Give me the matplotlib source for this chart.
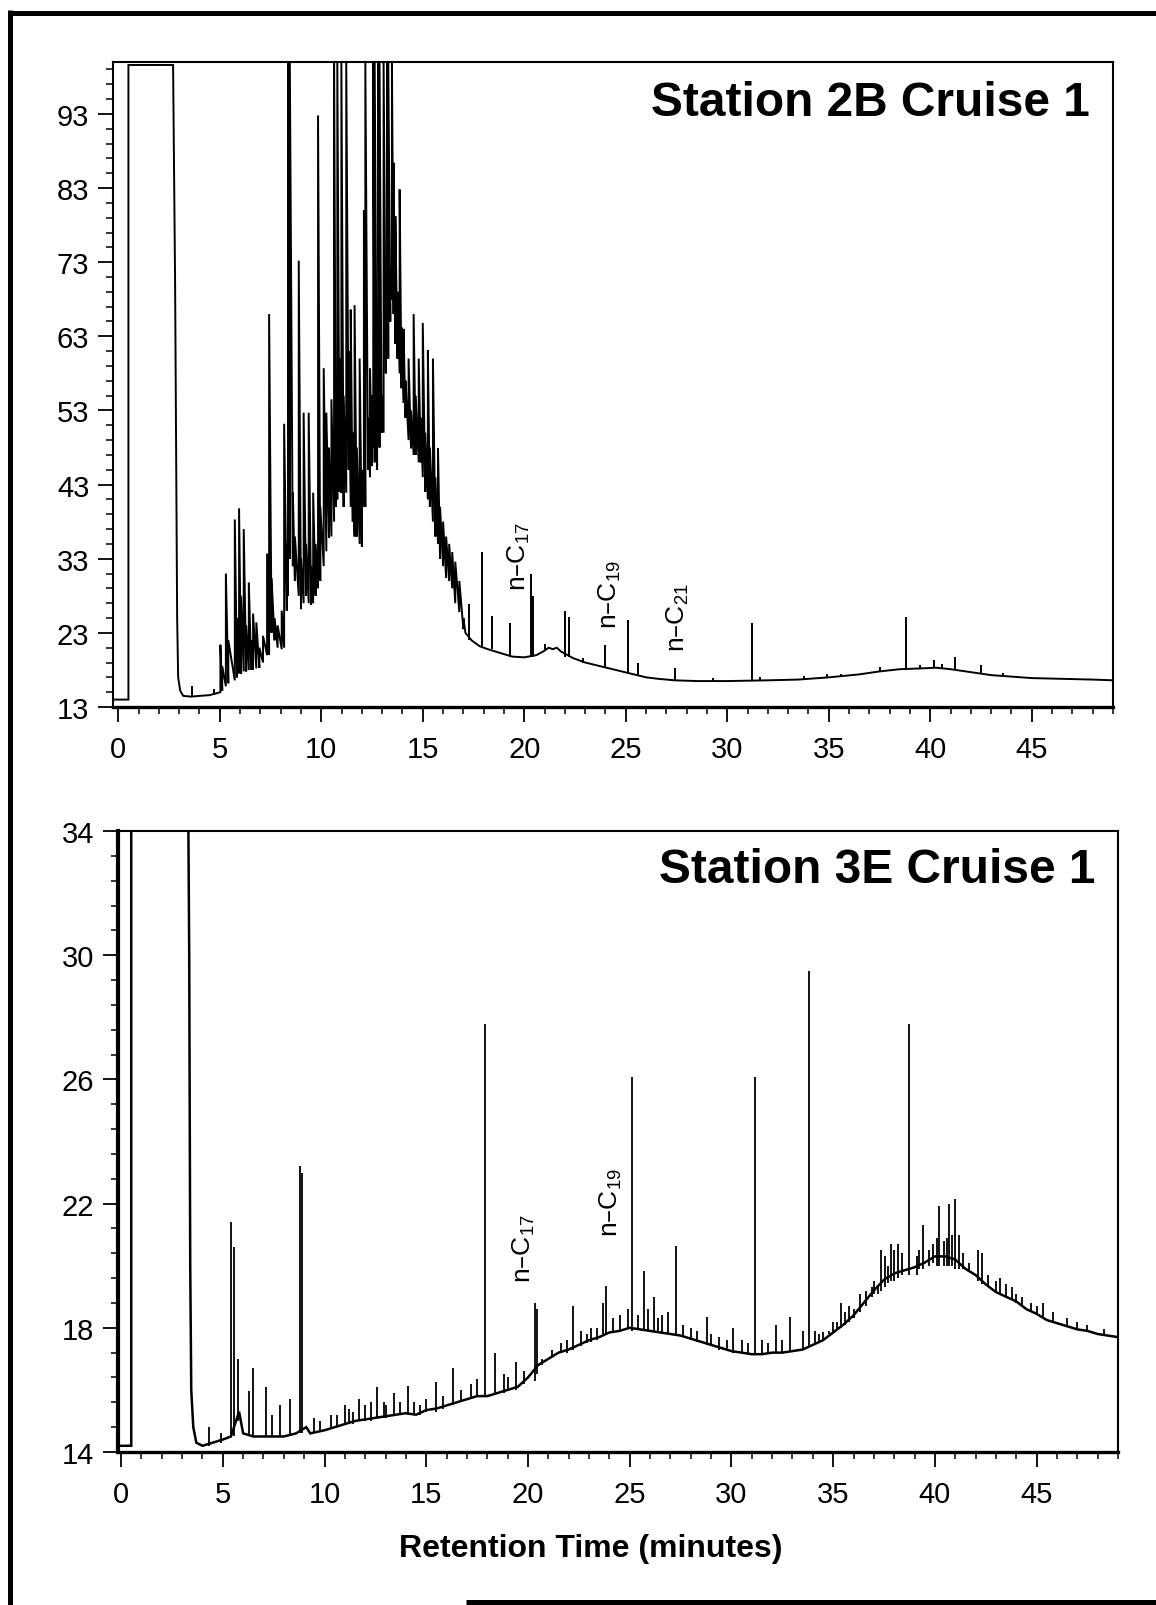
import numpy as np
import matplotlib
matplotlib.use('Agg')
import matplotlib.pyplot as plt
from matplotlib.lines import Line2D
from matplotlib.ticker import FixedLocator

plt.rcParams['font.family'] = ['Liberation Sans', 'DejaVu Sans']
plt.rcParams['mathtext.default'] = 'regular'

# --------------------------------------------------------------------------- #
# Station 2B Cruise 1 : trace before the hydrocarbon hump (minutes, response)
pre_2b_t = [-0.3, 0.5, 0.5, 2.7, 2.8, 2.9, 2.95, 3.05, 3.2, 3.6, 4.0, 4.5, 4.9]
pre_2b_y = [14.0, 14.0, 99.6, 99.6, 70, 25, 17, 15.2, 14.5, 14.4, 14.5, 14.6, 14.9]

# unresolved hump 5-17 min: retention time, valley, apex of each spike
hump_2b_t = [5.03, 5.12, 5.3, 5.42, 5.74, 5.85, 5.95, 6.05, 6.18, 6.3, 6.43, 6.55, 6.64, 6.8,
             6.95, 7.13, 7.33, 7.43, 7.55, 7.7, 7.85, 8.05, 8.17, 8.3, 8.36, 8.45, 8.6, 8.7,
             8.89, 9.0, 9.13, 9.25, 9.38, 9.5, 9.6, 9.72, 9.84, 9.95, 10.12, 10.25, 10.38,
             10.5, 10.63, 10.72, 10.79, 10.9, 10.99, 11.1, 11.23, 11.35, 11.45, 11.55, 11.64,
             11.75, 11.89, 12.0, 12.1, 12.17, 12.3, 12.4, 12.5, 12.56, 12.63, 12.75, 12.8,
             12.87, 12.97, 13.07, 13.18, 13.24, 13.3, 13.4, 13.48, 13.56, 13.65, 13.75, 13.86,
             13.95, 14.05, 14.15, 14.3, 14.42, 14.55, 14.65, 14.8, 14.9, 15.0, 15.12, 15.25,
             15.35, 15.5, 15.62, 15.75, 15.85, 16.0, 16.15, 16.3, 16.45, 16.6, 16.8, 17.0]
hump_2b_lo = [15.0, 15.2, 15.8, 16.2, 16.6, 17.0, 17.5, 17.5, 17.8, 17.8, 18.0, 18.0, 18.0, 18.2,
              18.3, 19.0, 20.0, 20.0, 23.0, 22.0, 21.0, 20.8, 21.0, 26, 28, 33, 32, 30,
              28, 26.2, 27, 28, 27, 26.8, 27, 28, 29, 30, 32, 34, 35.8,
              36, 38, 40, 41, 42, 41.9, 40, 41.9, 45, 40, 38, 36,
              36, 35, 34.6, 40, 40, 45, 44, 45.5, 48, 46, 45, 52,
              48, 50, 50, 58, 62, 60, 65, 68, 66, 62, 60, 58,
              56, 54, 52, 49, 47.9, 47, 47, 46, 46, 44, 42, 41,
              40, 38, 36, 35, 33, 32, 30.4, 30, 29, 27, 25.8, 23.5]
hump_2b_hi = [21.4, 18.5, 31.0, 22, 38.3, 25, 39.8, 28, 37, 24, 29.8, 22, 25.6, 24.4,
              21, 22.6, 33.7, 66, 30.4, 25, 24, 26, 51.2, 35, 100, 100, 41.9, 36,
              73.2, 33, 52.7, 35, 52.7, 32, 41.9, 35, 92.8, 40, 58.7, 52.7, 48,
              54.5, 100, 55, 100, 60, 100, 55, 100, 61, 66.6, 50, 67.2,
              48, 60, 45, 80, 100, 52, 58.7, 55, 100, 100, 60, 100,
              100, 55, 100, 66, 100, 100, 72, 100, 86.4, 79.2, 69, 82.8,
              64.2, 64, 57, 60, 53, 66, 55, 60, 52, 64.8, 50, 61.1,
              48, 60, 44, 47.9, 40, 38, 36, 35, 33.9, 32.6, 30, 25]

# trace after the hump
post_2b_t = [17.1, 17.4, 17.8, 18.2, 18.8, 19.4, 20.0, 20.6, 21.0, 21.2, 21.4, 21.6, 21.8,
             22.4, 23.0, 23.6, 24.2, 24.8, 25.4, 26.0, 26.6, 27.4, 28.5, 30.0, 32.0, 33.5,
             35.0, 36.5, 37.5, 38.5, 39.5, 40.3, 41.0, 42.0, 43.0, 44.0, 45.0, 46.5, 48.0, 49.0]
post_2b_y = [23.0, 22, 21.2, 20.8, 20.3, 19.8, 19.7, 20.0, 20.6, 21.0, 20.8, 21.0, 20.5,
             19.6, 19.0, 18.6, 18.2, 17.8, 17.4, 17.0, 16.8, 16.6, 16.5, 16.5, 16.6, 16.7,
             17.0, 17.4, 17.8, 18.1, 18.2, 18.3, 18.1, 17.7, 17.3, 17.1, 16.9, 16.8, 16.7, 16.6]

# resolved peaks: retention time, foot, apex
peak_2b_t = [3.65, 4.7, 17.3, 17.9, 18.4, 19.3, 20.35, 20.45, 21.0, 22.0, 22.2, 22.9, 24.0,
             25.1, 25.6, 27.4, 29.3, 31.2, 31.6, 33.8, 34.9, 35.6, 37.5, 38.8, 39.5, 40.2,
             40.6, 41.2, 42.5, 43.6]
peak_2b_lo = [14.4, 14.6, 22, 21.2, 20.8, 19.9, 19.8, 19.8, 20.5, 19.8, 19.7, 19.0, 18.4,
              17.6, 17.3, 16.6, 16.5, 16.5, 16.5, 16.8, 17.0, 17.1, 17.8, 18.1, 18.2, 18.3,
              18.3, 18.1, 17.6, 17.2]
peak_2b_hi = [15.8, 15.4, 26.9, 33.9, 25.3, 24.3, 31.0, 28, 21.5, 26, 25.1, 19.6, 21.4,
              24.8, 19.0, 18.3, 16.9, 24.3, 17.0, 17.2, 17.4, 17.5, 18.4, 25.1, 18.6, 19.3,
              18.8, 19.7, 18.6, 17.6]

labels_2b = ['n–C$_{17}$', 'n–C$_{19}$', 'n–C$_{21}$']
label_2b_t = [19.72, 24.2, 27.57]
label_2b_y = [28.8, 23.6, 20.5]
yticks_2b = [13, 23, 33, 43, 53, 63, 73, 83, 93]

# --------------------------------------------------------------------------- #
# Station 3E Cruise 1 : baseline trace
base_3e_t = [-0.2, 0.5, 0.5, 3.3, 3.35, 3.4, 3.45, 3.55, 3.7, 4.0, 4.5, 5.0, 5.4, 5.8, 6.0,
             6.5, 7.0, 7.5, 8.0, 8.6, 9.1, 9.3, 10.0, 10.5, 11.0, 11.5, 12.0, 12.5, 13.0,
             13.5, 14.0, 14.5, 15.0, 15.5, 16.0, 16.5, 17.0, 17.5, 18.0, 18.5, 19.0, 19.5,
             20.0, 20.5, 21.0, 21.5, 22.0, 22.5, 23.0, 23.5, 24.0, 24.5, 25.0, 25.5, 26.0,
             26.5, 27.0, 27.5, 28.0, 28.5, 29.0, 29.5, 30.0, 30.5, 31.0, 31.5, 32.0, 32.5,
             33.0, 33.5, 34.0, 34.5, 35.0, 35.5, 36.0, 36.5, 37.0, 37.5, 38.0, 38.5, 39.0,
             39.5, 40.0, 40.5, 41.0, 41.5, 42.0, 42.5, 43.0, 43.5, 44.0, 44.5, 45.0, 45.5,
             46.0, 46.5, 47.0, 47.5, 48.0, 48.5, 49.0]
base_3e_y = [14.2, 14.2, 35, 35, 30, 20, 16, 14.8, 14.3, 14.2, 14.3, 14.4, 14.5, 15.3, 14.6,
             14.5, 14.5, 14.5, 14.5, 14.6, 14.8, 14.6, 14.7, 14.8, 14.9, 15.0, 15.05, 15.1, 15.15,
             15.2, 15.25, 15.2, 15.35, 15.4, 15.5, 15.6, 15.7, 15.8, 15.8, 15.9, 16.0, 16.1,
             16.4, 16.8, 17.0, 17.2, 17.3, 17.45, 17.6, 17.7, 17.85, 17.9, 18.0, 17.95, 17.9,
             17.85, 17.8, 17.75, 17.65, 17.55, 17.45, 17.35, 17.25, 17.2, 17.15, 17.15, 17.2, 17.2,
             17.25, 17.3, 17.45, 17.6, 17.85, 18.1, 18.4, 18.8, 19.2, 19.55, 19.75, 19.85, 19.95,
             20.1, 20.3, 20.3, 20.2, 19.9, 19.7, 19.4, 19.15, 19.0, 18.85, 18.6, 18.45, 18.25,
             18.15, 18.05, 17.95, 17.9, 17.8, 17.75, 17.7]

# Station 3E peaks: retention time, foot, apex
peak_3e_t = [4.3, 4.9, 5.42, 5.57, 5.75, 6.3, 6.5, 7.1, 7.4, 7.8, 8.3, 8.79, 8.9, 9.5, 9.8,
             10.3, 10.6, 11.0, 11.2, 11.4, 11.7, 12.0, 12.3, 12.6, 12.9, 13.0, 13.4, 13.7,
             14.1, 14.4, 14.7, 15.0, 15.5, 15.8, 16.3, 16.7, 17.2, 17.5, 17.9, 18.4, 18.8,
             19.0, 19.4, 19.8, 20.35, 20.45, 20.7, 21.2, 21.6, 21.9, 22.2, 22.6, 22.9, 23.1,
             23.4, 23.7, 23.84, 24.2, 24.5, 24.9, 25.1, 25.4, 25.7, 25.9, 26.2, 26.4, 26.6,
             26.9, 27.28, 27.6, 28.0, 28.3, 28.8, 29.0, 29.4, 29.8, 30.1, 30.5, 30.8, 31.17,
             31.5, 31.8, 32.2, 32.5, 32.9, 33.5, 33.8, 34.1, 34.3, 34.5, 34.8, 35.0, 35.2,
             35.4, 35.6, 35.8, 36.0, 36.3, 36.6, 36.9, 37.0, 37.2, 37.35, 37.55, 37.7, 37.85,
             38.0, 38.2, 38.4, 38.75, 39.1, 39.2, 39.4, 39.7, 39.9, 40.1, 40.2, 40.45, 40.6,
             40.7, 40.85, 41.0, 41.2, 41.4, 41.7, 42.1, 42.3, 42.6, 43.0, 43.2, 43.5, 43.8,
             44.0, 44.3, 44.7, 45.0, 45.3, 45.8, 46.5, 47.0, 47.5, 48.3]
peak_3e_lo = [14.2, 14.3, 14.5, 14.5, 15, 14.5, 14.5, 14.5, 14.5, 14.5, 14.5, 14.6, 14.6, 14.6, 14.7,
              14.8, 14.8, 14.9, 14.9, 14.9, 15.0, 15.0, 15.0, 15.1, 15.1, 15.1, 15.2, 15.2,
              15.2, 15.2, 15.2, 15.3, 15.3, 15.4, 15.5, 15.6, 15.7, 15.8, 15.8, 15.9, 15.9,
              16.0, 16.0, 16.2, 16.3, 16.5, 16.8, 17.1, 17.2, 17.2, 17.3, 17.4, 17.5, 17.55,
              17.6, 17.8, 17.8, 17.85, 17.9, 18.0, 17.9, 17.95, 17.9, 17.9, 17.9, 17.85, 17.8,
              17.8, 17.75, 17.7, 17.6, 17.55, 17.45, 17.4, 17.3, 17.25, 17.2, 17.2, 17.15, 17.15,
              17.15, 17.15, 17.2, 17.2, 17.25, 17.3, 17.4, 17.5, 17.5, 17.6, 17.8, 17.85, 17.95,
              18.0, 18.1, 18.2, 18.3, 18.5, 18.7, 19.0, 19.1, 19.1, 19.2, 19.3, 19.45, 19.5,
              19.5, 19.6, 19.7, 19.7, 19.7, 19.9, 19.9, 20.0, 20.1, 20.0, 20.0, 20.0, 20.0,
              20.0, 20.0, 19.9, 19.9, 19.9, 19.8, 19.5, 19.4, 19.3, 19.2, 19.1, 19.0, 18.9,
              18.8, 18.7, 18.5, 18.45, 18.3, 18.2, 18.05, 17.95, 17.85, 17.75]
peak_3e_hi = [14.8, 14.6, 21.4, 20.6, 17, 15.95, 16.7, 16.1, 15.2, 15.5, 15.7, 23.2, 23.0, 15.1, 15.0,
              15.2, 15.2, 15.5, 15.4, 15.3, 15.7, 15.5, 15.6, 16.1, 15.6, 15.5, 15.9, 15.6,
              16.14, 15.6, 15.5, 15.7, 16.25, 15.8, 16.7, 16.0, 16.2, 16.35, 27.8, 17.2, 16.5,
              16.4, 16.9, 16.6, 18.8, 18.6, 17.0, 17.3, 17.5, 17.6, 18.7, 17.9, 17.8, 18.0,
              18.0, 18.8, 19.35, 18.3, 18.4, 18.6, 26.07, 18.4, 19.84, 18.6, 19.0, 18.3, 18.4,
              18.5, 20.64, 18.1, 18.0, 17.9, 18.35, 17.8, 17.7, 17.6, 18.0, 17.6, 17.5, 26.07,
              17.6, 17.5, 18.1, 17.6, 18.35, 17.9, 29.5, 17.9, 17.8, 17.85, 17.9, 18.2, 18.2,
              18.8, 18.5, 18.7, 18.6, 19.1, 19.2, 19.3, 19.5, 19.35, 20.5, 20.3, 20.0, 20.7,
              20.5, 20.7, 20.4, 27.8, 20.3, 20.5, 21.3, 20.5, 20.7, 20.9, 21.93, 20.8, 20.9,
              21.98, 21.0, 22.15, 21.0, 20.4, 20.1, 20.5, 20.4, 19.7, 19.5, 19.6, 19.4, 19.3,
              19.1, 19.0, 18.8, 18.7, 18.8, 18.5, 18.3, 18.2, 18.1, 17.95]

labels_3e = ['n–C$_{17}$', 'n–C$_{19}$']
label_3e_t = [19.8, 24.1]
label_3e_y = [19.48, 20.96]
yticks_3e = [14, 18, 22, 26, 30, 34]

xticks = [0, 5, 10, 15, 20, 25, 30, 35, 40, 45]


# --------------------------------------------------------------------------- #
def style_axes(ax, title, labels, lt, ly):
    for s, x, y in zip(labels, lt, ly):
        ax.text(x, y, s, rotation=90, ha='center', va='bottom', fontsize=19)
    ax.text(0.977, 0.918, title, transform=ax.transAxes, ha='right', va='baseline',
            fontsize=34.5, fontweight='bold')
    ax.set_xticks(xticks)
    ax.xaxis.set_minor_locator(FixedLocator(np.arange(0, 50, 1)))
    ax.tick_params(which='major', direction='out', length=11, width=1.3, labelsize=21, pad=6)
    ax.tick_params(which='minor', direction='out', length=5, width=1.1)
    ax.tick_params(axis='x', which='major', pad=9)
    for sp in ax.spines.values():
        sp.set_linewidth(1.5)
    ax.spines['bottom'].set_linewidth(2.4)


fig = plt.figure(figsize=(11.56, 16.06), dpi=100)

# top panel: one trace through the hump spikes, resolved peaks as sticks
ax1 = fig.add_axes([0.09775, 0.55915, 0.86505, 0.40162])
zz_t, zz_y = [], []
for t, lo, hi in zip(hump_2b_t, hump_2b_lo, hump_2b_hi):
    zz_t += [t, t]
    zz_y += [lo, hi]
ax1.plot(pre_2b_t + zz_t + post_2b_t, pre_2b_y + zz_y + post_2b_y,
         color='k', lw=1.4, solid_joinstyle='miter')
ax1.vlines(peak_2b_t, peak_2b_lo, peak_2b_hi, color='k', lw=1.4)
style_axes(ax1, 'Station 2B Cruise 1', labels_2b, label_2b_t, label_2b_y)
ax1.set_xlim(-0.26, 49.0)
ax1.set_ylim(13, 100)
ax1.set_yticks(yticks_2b)
ax1.yaxis.set_minor_locator(FixedLocator(np.arange(13, 100.1, 2)))

ax2 = fig.add_axes([0.10208, 0.09527, 0.86505, 0.38667])
ax2.plot(base_3e_t, base_3e_y, color='k', lw=1.8, solid_joinstyle='miter')
ax2.vlines(peak_3e_t, peak_3e_lo, peak_3e_hi, color='k', lw=1.3)
style_axes(ax2, 'Station 3E Cruise 1', labels_3e, label_3e_t, label_3e_y)
ax2.set_xlim(-0.15, 49.0)
ax2.set_ylim(14, 34)
ax2.set_yticks(yticks_3e)
ax2.yaxis.set_minor_locator(FixedLocator(np.arange(14, 34.01, 0.8)))
ax2.spines['left'].set_linewidth(3.0)

fig.text(0.511, 0.0355, 'Retention Time (minutes)', ha='center', va='center',
         fontsize=23, fontweight='bold')

# scanned page frame
W, H = 1156.0, 1606.0
frame = dict(color='k', lw=3.6, transform=fig.transFigure, solid_capstyle='butt')
fig.add_artist(Line2D([10 / W, 10 / W], [1 - 11 / H, 0], **frame))
fig.add_artist(Line2D([8 / W, 1], [1 - 14 / H, 1 - 14 / H], **frame))
fig.add_artist(Line2D([466 / W, 1], [3 / H, 3 / H], **frame))

fig.savefig('out.png', dpi=100, facecolor='white')
